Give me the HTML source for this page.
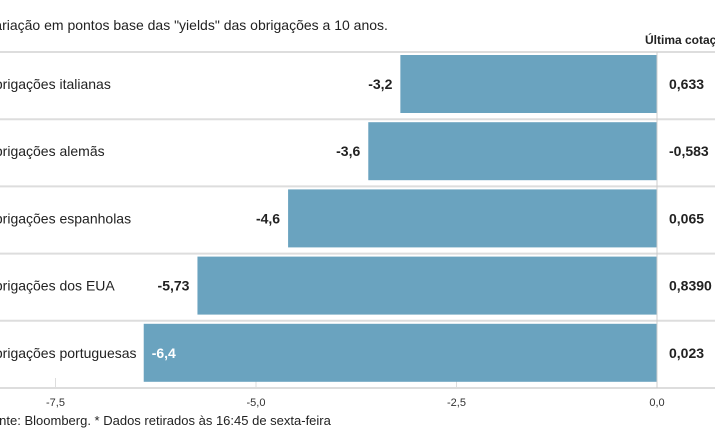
<!DOCTYPE html>
<html><head><meta charset="utf-8">
<style>
body{margin:0;width:715px;height:445px;overflow:hidden;background:#fff;font-family:"Liberation Sans",sans-serif;}
svg{display:block}
</style></head><body>
<svg id="c" width="715" height="445">
<text x="-14" y="30" font-size="14" fill="#222">Variação em pontos base das "yields" das obrigações a 10 anos.</text>
<text x="645" y="44" font-size="12" font-weight="bold" fill="#222">Última cotação*</text>
<text x="-16" y="425" font-size="13" fill="#222">Fonte: Bloomberg.  * Dados retirados às 16:45 de sexta-feira</text>
<g id="g"></g>
</svg>
<script>
const categories=["Obrigações italianas","Obrigações alemãs","Obrigações espanholas","Obrigações dos EUA","Obrigações portuguesas"];
const changes=[-3.2,-3.6,-4.6,-5.73,-6.4];
const changeLabels=["-3,2","-3,6","-4,6","-5,73","-6,4"];
const lastQuotes=["0,633","-0,583","0,065","0,8390","0,023"];
const ticks=[-7.5,-5,-2.5,0];
const tickLabels=["-7,5","-5,0","-2,5","0,0"];
const NS="http://www.w3.org/2000/svg",g=document.getElementById('g');
const x=v=>657+v*80.2;
const top0=52,rowH=67.2;
function mk(t,a,txt){const e=document.createElementNS(NS,t);for(const k in a)e.setAttribute(k,a[k]);if(txt!=null)e.textContent=txt;g.appendChild(e);return e;}
for(let i=0;i<=categories.length;i++){
 const l=mk('line',{x1:0,x2:715,y1:top0+i*rowH,y2:top0+i*rowH,stroke:'#ddd','stroke-width':2});
 
 
}
ticks.forEach((t,i)=>{
 const l=mk('line',{x1:x(t),x2:x(t),y1:378,y2:388,stroke:'#ddd'});
 
 
 const tx=mk('text',{x:x(t),y:406,'font-size':11,fill:'#333','text-anchor':'middle'},tickLabels[i]);
 
 
});
categories.forEach((c,i)=>{
 const y0=top0+i*rowH;
 const b=mk('rect',{x:x(changes[i]),y:y0+3,width:x(0)-x(changes[i]),height:58,fill:'#6aa3bf'});
 
 
 const cl=mk('text',{x:-16,y:y0+37,'font-size':14,fill:'#222'},c);
 
 
 const inside=i===categories.length-1;
 const vl=mk('text',{x:inside?x(changes[i])+8:x(changes[i])-8,y:y0+37,'font-size':14,'font-weight':'bold',fill:inside?'#fff':'#222','text-anchor':inside?'start':'end'},changeLabels[i]);
 
 
 const q=mk('text',{x:669,y:y0+37,'font-size':14,'font-weight':'bold',fill:'#222'},lastQuotes[i]);
 
 
});
const z=mk('line',{x1:x(0),x2:x(0),y1:top0,y2:388,stroke:'#ccc','stroke-width':1});


</script>
</body></html>
